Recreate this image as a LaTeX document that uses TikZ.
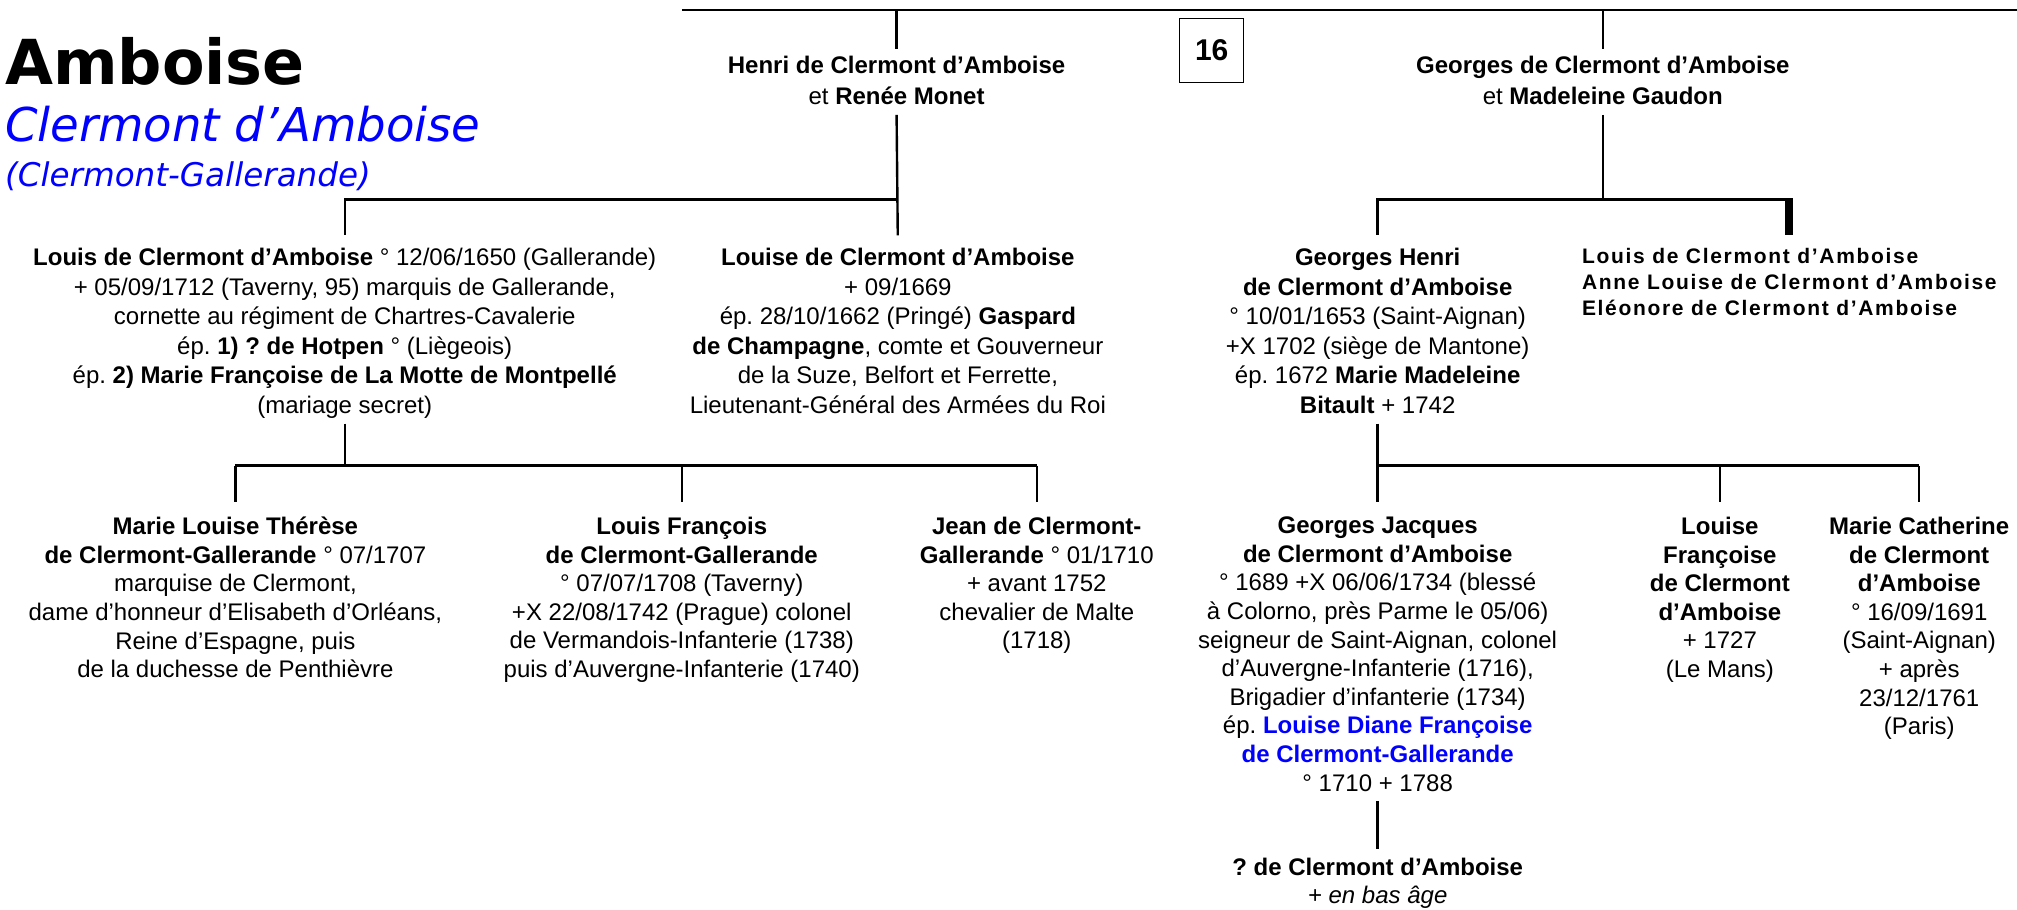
\documentclass[tikz,border=0pt]{standalone}
\usepackage{fontspec}
\setmainfont{Liberation Sans}
\newfontfamily\titlefont{DejaVu Sans}
\newfontfamily\spacedfont[LetterSpace=8]{Liberation Sans}
\frenchspacing
\begin{document}
\begin{tikzpicture}[x=0.6432pt,y=-0.6432pt,line width=1.2pt,
  person/.style={anchor=north,align=center,inner sep=0pt,
    execute at begin node={\strut},execute at end node={\strut}},
  rowa/.style={person,font=\frenchspacing\fontsize{12}{15.4}\selectfont},
  rowb/.style={person,font=\frenchspacing\fontsize{12}{14.8}\selectfont},
  rowc/.style={person,font=\frenchspacing\fontsize{12}{14.3}\selectfont},
  title/.style={anchor=base west,inner sep=0pt}
]
\useasboundingbox (0,0) rectangle (1568,707);

% titles
\node[title,font=\titlefont\bfseries\fontsize{31}{36}\selectfont] (t1) at (3,66) {Amboise};
\node[title,font=\titlefont\itshape\fontsize{23.3}{28}\selectfont,text=blue] (t2) at (3,110) {Clermont d’Amboise};
\node[title,font=\titlefont\itshape\fontsize{16.3}{20}\selectfont,text=blue] (t3) at (3,145) {(Clermont-Gallerande)};

% page number
\node[draw,line width=0.6pt,minimum width=32pt,minimum height=32pt,inner sep=0pt,font=\bfseries\fontsize{15}{17}\selectfont] (num) at (942,39) {16};

% generation 1
\coordinate (tl) at (530,8);
\coordinate (tr) at (1568,8);
\node[rowa] (henri) at (697,42.7) {\textbf{Henri de Clermont d’Amboise}\\et \textbf{Renée Monet}};
\node[rowa] (gp) at (1246,42.7) {\textbf{Georges de Clermont d’Amboise}\\et \textbf{Madeleine Gaudon}};

% generation 2
\node[rowb] (louis) at (268,192) {\textbf{Louis de Clermont d’Amboise} ° 12/06/1650 (Gallerande)\\+ 05/09/1712 (Taverny, 95) marquis de Gallerande,\\cornette au régiment de Chartres-Cavalerie\\ép. \textbf{1) ? de Hotpen} ° (Liègeois)\\ép. \textbf{2) Marie Françoise de La Motte de Montpellé}\\(mariage secret)};
\node[rowb] (louise) at (698,192) {\textbf{Louise de Clermont d’Amboise}\\+ 09/1669\\ép. 28/10/1662 (Pringé) \textbf{Gaspard}\\\textbf{de Champagne}, comte et Gouverneur\\de la Suze, Belfort et Ferrette,\\Lieutenant-Général des Armées du Roi};
\node[rowb] (gh) at (1071,192) {\textbf{Georges Henri}\\\textbf{de Clermont d’Amboise}\\° 10/01/1653 (Saint-Aignan)\\+X 1702 (siège de Mantone)\\ép. 1672 \textbf{Marie Madeleine}\\\textbf{Bitault} + 1742};
\node[anchor=north,align=left,inner sep=0pt,font=\spacedfont\bfseries\fontsize{10.5}{12.9}\selectfont,
  execute at begin node={\strut}] (list) at (1391,192) {Louis de Clermont d’Amboise\\Anne Louise de Clermont d’Amboise\\Eléonore de Clermont d’Amboise};

% generation 3
\node[rowc] (c1) at (183,401) {\textbf{Marie Louise Thérèse}\\\textbf{de Clermont-Gallerande} ° 07/1707\\marquise de Clermont,\\dame d’honneur d’Elisabeth d’Orléans,\\Reine d’Espagne, puis\\de la duchesse de Penthièvre};
\node[rowc] (c2) at (530,401) {\textbf{Louis François}\\\textbf{de Clermont-Gallerande}\\° 07/07/1708 (Taverny)\\+X 22/08/1742 (Prague) colonel\\de Vermandois-Infanterie (1738)\\puis d’Auvergne-Infanterie (1740)};
\node[rowc] (c3) at (806,401) {\textbf{Jean de Clermont-}\\\textbf{Gallerande} ° 01/1710\\+ avant 1752\\chevalier de Malte\\(1718)};
\node[rowc] (gj) at (1071,401) {\textbf{Georges Jacques}\\\textbf{de Clermont d’Amboise}\\° 1689 +X 06/06/1734 (blessé\\à Colorno, près Parme le 05/06)\\seigneur de Saint-Aignan, colonel\\d’Auvergne-Infanterie (1716),\\Brigadier d’infanterie (1734)\\ép. \textcolor{blue}{\textbf{Louise Diane Françoise}}\\\textcolor{blue}{\textbf{de Clermont-Gallerande}}\\° 1710 + 1788};
\node[rowc] (lf) at (1337,401) {\textbf{Louise}\\\textbf{Françoise}\\\textbf{de Clermont}\\\textbf{d’Amboise}\\+ 1727\\(Le Mans)};
\node[rowc] (mc) at (1492,401) {\textbf{Marie Catherine}\\\textbf{de Clermont}\\\textbf{d’Amboise}\\° 16/09/1691\\(Saint-Aignan)\\+ après\\23/12/1761\\(Paris)};

% generation 4
\node[rowc] (q) at (1071,666) {\textbf{? de Clermont d’Amboise}\\\textit{+ en bas âge}};

% connectors
\coordinate (j1) at (697,155);
\coordinate (j2) at (268,362);
\coordinate (j3) at (1246,155);
\coordinate (j4) at (1071,362);

\draw (tl) -- (tr);
\draw[shorten >=3pt] (henri.north |- tl) -- (henri.north);
\draw[shorten >=3pt] (gp.north |- tl) -- (gp.north);

\draw[shorten >=5.8pt] (henri.south) -- (louise.north);
\draw[shorten >=5.8pt] (j1) -| (louis.north);

\draw (gp.south) -- (j3);
\draw[shorten >=5.8pt] (j3) -| (gh.north);
\draw (j3) -- (list.north |- j3);
\draw[line width=4pt,shorten >=5.8pt] ([yshift=0.6pt]list.north |- j3) -- (list.north);

\draw (louis.south) -- (j2);
\draw (c1.north |- j2) -- (c3.north |- j2);
\draw[shorten >=6.9pt] (c1.north |- j2) -- (c1.north);
\draw[shorten >=6.9pt] (c2.north |- j2) -- (c2.north);
\draw[shorten >=6.9pt] (c3.north |- j2) -- (c3.north);

\draw[shorten >=6.9pt] (gh.south) -- (gj.north);
\draw (j4) -- (mc.north |- j4);
\draw[shorten >=6.9pt] (lf.north |- j4) -- (lf.north);
\draw[shorten >=6.9pt] (mc.north |- j4) -- (mc.north);

\draw[shorten >=3.7pt] (gj.south) -- (q.north);
\end{tikzpicture}
\end{document}
